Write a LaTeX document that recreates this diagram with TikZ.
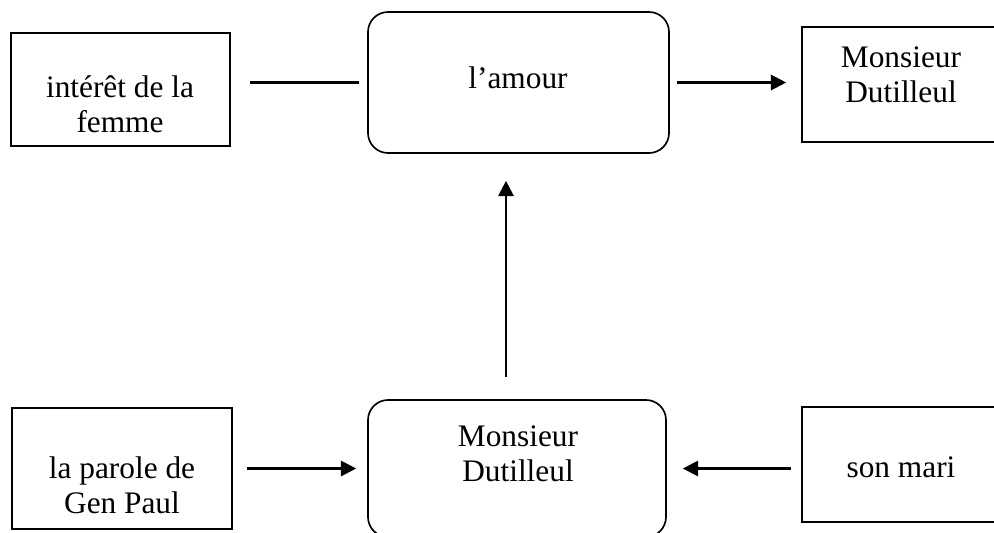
\documentclass[tikz,border=0pt]{standalone}
\usepackage{fontspec}
\setmainfont{Liberation Serif}
\usetikzlibrary{arrows.meta,calc}

\tikzset{
  plainbox/.style={draw, line width=1.25pt, rectangle, inner sep=0pt},
  roundbox/.style={draw, line width=1.25pt, rectangle, rounded corners=15pt, inner sep=0pt},
  lbl/.style={align=center, inner sep=0pt, font=\fontsize{23.5pt}{26.25pt}\selectfont},
  conn/.style={line width=1.7pt},
  arr/.style={conn, -{Triangle[length=11.5pt, width=11.5pt]}},
}

\begin{document}
\begin{tikzpicture}[x=0.75pt, y=-0.75pt]
  \useasboundingbox (0,0) rectangle (994,532);
  \clip (0,0) rectangle (994,532);

  % boxes (coordinates in pixels, y pointing down)
  \node[plainbox, minimum width=219*0.75pt, minimum height=113*0.75pt] (tl) at (120.5,89.5) {};
  \node[roundbox, minimum width=301*0.75pt, minimum height=141*0.75pt] (tm) at (518.5,82.5) {};
  \node[plainbox, minimum width=198*0.75pt, minimum height=115*0.75pt] (tr) at (901,84.5) {};
  \node[plainbox, minimum width=220*0.75pt, minimum height=121*0.75pt] (bl) at (122,468.5) {};
  \node[roundbox, minimum width=298*0.75pt, minimum height=137*0.75pt] (bm) at (517,468.5) {};
  \node[plainbox, minimum width=198*0.75pt, minimum height=115*0.75pt] (br) at (901,464.5) {};

  % texts
  \node[lbl] (tltext) at (120,104) {intérêt de la\\femme};
  \node[lbl] (tmtext) at (518,77.5) {l’amour};
  \node[lbl] (trtext) at (901,74.5) {Monsieur\\Dutilleul};
  \node[lbl] (bltext) at (122,485) {la parole de\\Gen Paul};
  \node[lbl] (bmtext) at (518,454) {Monsieur\\Dutilleul};
  \node[lbl] (brtext) at (901,467.5) {son mari};

  % ends of the vertical connector, a little left of the box centres
  \coordinate (vbot) at ($(bm.north)+(-11,0)$);
  \coordinate (vtop) at (vbot |- tm.south);

  % connectors
  \draw[conn, shorten <=14.25pt, shorten >=6pt] (tl.east |- tm.west) -- (tm.west);
  \draw[arr, shorten <=5.25pt, shorten >=11.25pt] (tm.east) -- (tm.east -| tr.west);
  \draw[arr, shorten <=16.5pt, shorten >=20.25pt] (vbot) -- (vtop);
  \draw[arr, shorten <=10.5pt, shorten >=8.25pt] (bl.east) -- (bl.east -| bm.west);
  \draw[arr, shorten <=7.5pt, shorten >=12pt] (br.west |- bm.east) -- (bm.east);
\end{tikzpicture}
\end{document}
